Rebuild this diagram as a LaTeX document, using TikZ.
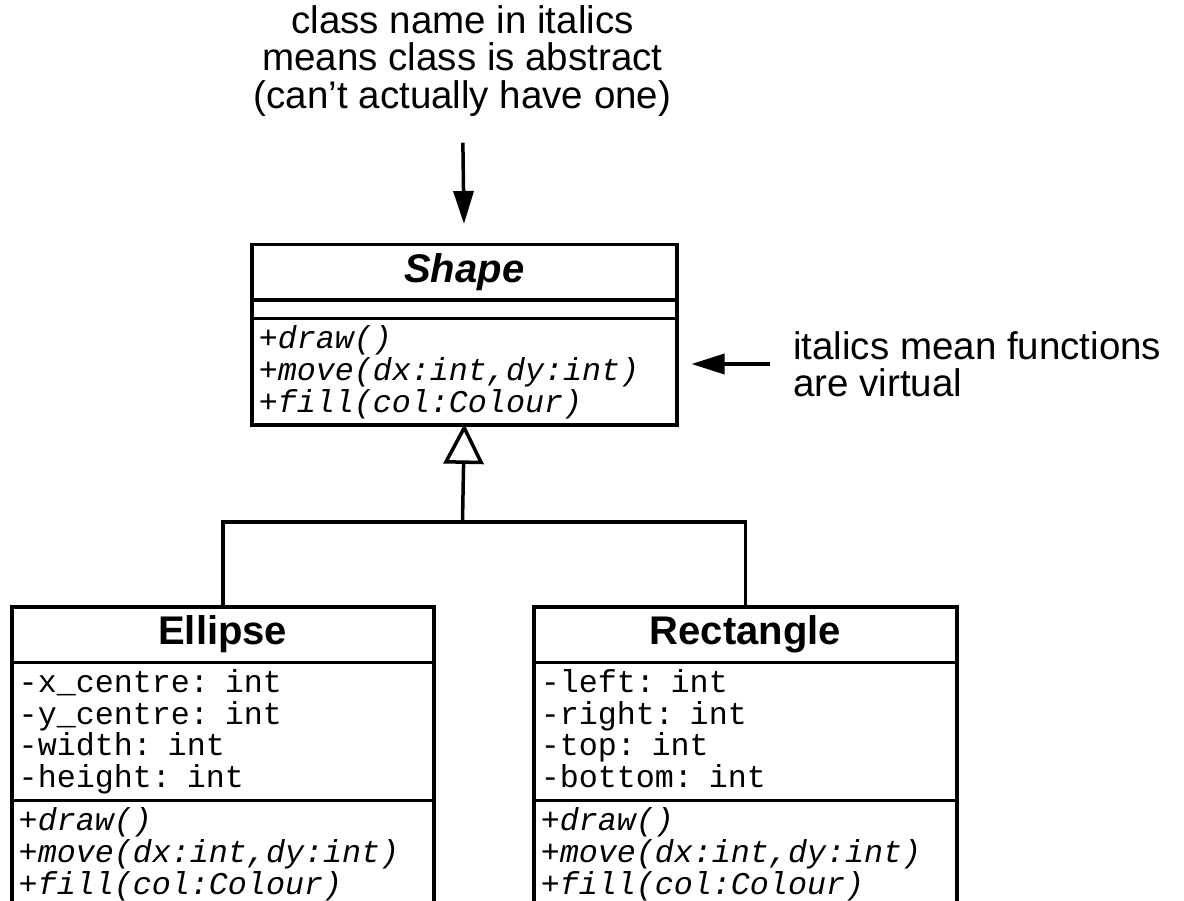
\documentclass[tikz,border=0pt]{standalone}
\usepackage{fontspec}
\setmainfont{Liberation Sans}
\newfontfamily\codefont{Liberation Mono}
\usetikzlibrary{shapes.multipart, arrows.meta, positioning}
\setlength{\lineskiplimit}{-100pt}

\newcommand{\classname}[1]{\noindent\hspace*{\fill}{\normalfont\fontsize{40}{40}\selectfont\bfseries\rule[-12pt]{0pt}{44pt}#1}\hspace*{\fill}\null}
\newcommand{\codestrut}{\rule[-7pt]{0pt}{31.5pt}}

\begin{document}
\begin{tikzpicture}[x=1pt, y=-1pt]
	\tikzstyle{classbox}=[
	draw,
	line width=3.5pt,
	rectangle split,
	rectangle split parts=3,
	text width=409pt,
	align=left,
	inner xsep=7pt,
	inner ysep=4pt,
	anchor=north west,
	font=\codefont\fontsize{31.7}{31.7}\selectfont
	]
	\tikzstyle{note}=[inner sep=0pt, font=\fontsize{38.5}{37.5}\selectfont]
	\tikzstyle{link}=[line width=3.5pt]
	\useasboundingbox (0,0) rectangle (1184,901);
	\clip (0,0) rectangle (1184,901);
	% notes
	\node[note, align=center] (abstractnote) at (462.5,61) {class name in italics\\means class is abstract\\(can’t actually have one)};
	\node[note, align=left, anchor=west] (virtualnote) at (793,364) {italics mean functions\\are virtual};
	% classes
	\node[classbox, text width=411pt] (Shape) at (250,243) {\classname{\itshape Shape}
		\nodepart{two}\rule{0pt}{7pt}
		\nodepart{three}\itshape \codestrut+draw()\\\codestrut+move(dx:int,dy:int)\\\codestrut+fill(col:Colour)};
	\node[classbox, text width=408pt] (Ellipse) at (10,605) {\classname{Ellipse}
		\nodepart{two}\codestrut-x\_centre: int\\\codestrut-y\_centre: int\\\codestrut-width: int\\\codestrut-height: int
		\nodepart{three}\itshape \codestrut+draw()\\\codestrut+move(dx:int,dy:int)\\\codestrut+fill(col:Colour)};
	\node[classbox] (Rectangle) at (532,605) {\classname{Rectangle}
		\nodepart{two}\codestrut-left: int\\\codestrut-right: int\\\codestrut-top: int\\\codestrut-bottom: int
		\nodepart{three}\itshape \codestrut+draw()\\\codestrut+move(dx:int,dy:int)\\\codestrut+fill(col:Colour)};
	% arrows
	\draw[link, -{Triangle[length=33pt, width=20pt]}, shorten <=26pt, shorten >=19pt] (abstractnote.south) -- (Shape.north);
	\draw[link, -{Triangle[length=33pt, width=20pt]}, shorten <=23pt, shorten >=13pt] (virtualnote.west) -- (virtualnote.west -| Shape.east);
	%
	\coordinate (fork) at (462.5,522);
	\draw[link, -{Triangle[open, length=40pt, width=40pt]}, shorten >=-3pt] (fork) -- (Shape.south);
	\draw[link] (Ellipse.north) |- (fork) -| (Rectangle.north);
\end{tikzpicture}
\end{document}
